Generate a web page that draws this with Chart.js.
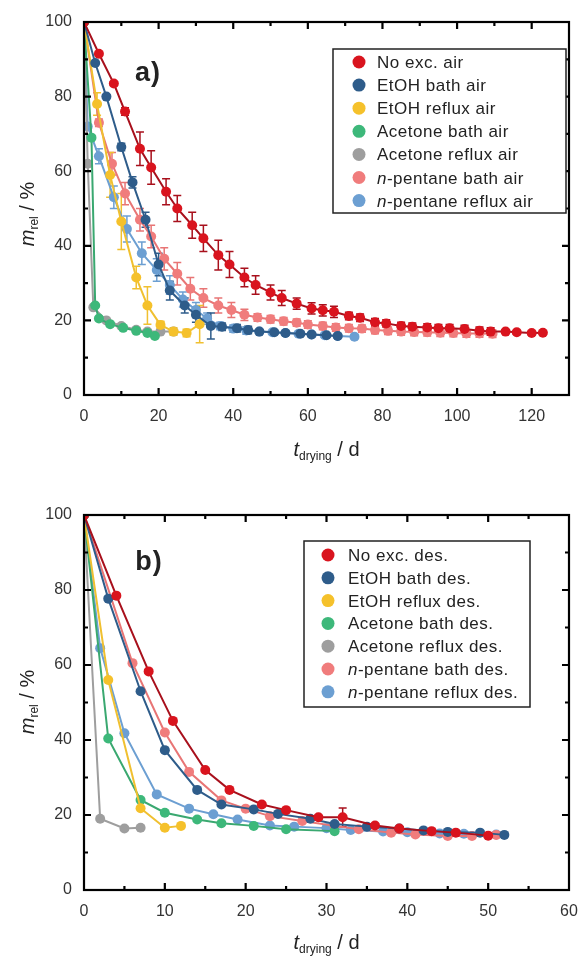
<!DOCTYPE html>
<html>
<head>
<meta charset="utf-8">
<script src="https://cdn.jsdelivr.net/npm/chart.js@4.4.0/dist/chart.umd.min.js"></script>
<style>
  html, body { margin: 0; padding: 0; background: #fff; }
  #wrap { position: relative; width: 579px; height: 957px; }
  .box { position: absolute; left: 0; width: 579px; }
</style>
</head>
<body>
<div id="wrap">
  <div class="box" style="top:0;height:485px"><canvas id="chartA"></canvas></div>
  <div class="box" style="top:485px;height:472px"><canvas id="chartB"></canvas></div>
</div>
<script>
// ---- 公共 ----
const NAMES_A = ["No exc. air", "EtOH bath air", "EtOH reflux air", "Acetone bath air", "Acetone reflux air", "n-pentane bath air", "n-pentane reflux air"];
const NAMES_B = ["No exc. des.", "EtOH bath des.", "EtOH reflux des.", "Acetone bath des.", "Acetone reflux des.", "n-pentane bath des.", "n-pentane reflux des."];
const FILL = ["#d9141e", "#2e5c8a", "#f5c12b", "#3db87a", "#9e9e9e", "#f07c7c", "#6c9fd2"];
const LINE = ["#a8101c", "#2e5c8a", "#f0c030", "#3aa870", "#9e9e9e", "#e87575", "#6c9fd2"];

const X_TICKS_A = [0, 20, 40, 60, 80, 100, 120];
const X_TICKS_B = [0, 10, 20, 30, 40, 50, 60];
const Y_TICKS = [0, 20, 40, 60, 80, 100];

// ---- a) 空氣乾燥 ----
const A_NOEXC_X = [0, 4, 8, 11, 15, 18, 22, 25, 29, 32, 36, 39, 43, 46, 50, 53, 57, 61, 64, 67, 71, 74, 78, 81, 85, 88, 92, 95, 98, 102, 106, 109, 113, 116, 120, 123];
const A_NOEXC_Y = [100, 91.5, 83.5, 76, 66, 61, 54.5, 50, 45.5, 42, 37.5, 35, 31.5, 29.5, 27.5, 26, 24.5, 23.2, 22.7, 22.3, 21.2, 20.7, 19.5, 19.2, 18.5, 18.3, 18.1, 17.9, 17.9, 17.7, 17.2, 17, 17, 16.8, 16.6, 16.7];
const A_NOEXC_E = [0, 0.5, 0.5, 1, 4.5, 4.5, 3.5, 3.5, 3.5, 3.5, 4, 3.5, 2.5, 2.5, 2, 2, 1.5, 1.5, 1.5, 1.5, 1, 1, 1, 1, 1, 1, 1, 1, 1, 1, 1, 1, 0.5, 0.5, 0.5, 0.5];

const A_ETB_X = [0, 3, 6, 10, 13, 16.5, 20, 23, 27, 30, 34, 37, 41, 44, 47, 51, 54, 58, 61, 65, 68];
const A_ETB_Y = [100, 89, 80, 66.5, 57, 47, 35, 28, 24, 21.5, 18.5, 18.3, 17.9, 17.4, 17, 16.8, 16.6, 16.4, 16.2, 16, 15.8];
const A_ETB_E = [0, 0, 0.5, 1, 1.5, 2, 3, 2.5, 2, 2, 3.5, 1, 1, 1, 0.5, 0.5, 0.5, 0.5, 0.5, 0.5, 0.5];

const A_ETR_X = [0, 3.5, 7, 10, 14, 17, 20.5, 24, 27.5, 31];
const A_ETR_Y = [100, 78, 59, 46.5, 31.5, 24, 18.8, 17, 16.6, 19];
const A_ETR_E = [0, 3, 6, 7.5, 3, 5, 1, 1, 1, 5];

const A_ACB_X = [0, 2, 3, 4, 7, 10.5, 14, 17, 19];
const A_ACB_Y = [100, 69, 24, 20.5, 19, 18, 17.2, 16.6, 15.8];

const A_ACR_X = [0, 1, 2.5, 6, 10, 14, 17, 20.5, 24];
const A_ACR_Y = [100, 62, 23.5, 20, 18.5, 17.5, 17, 17, 17];

const A_NPB_X = [0, 4, 7.5, 11, 15, 18, 21.5, 25, 28.5, 32, 36, 39.5, 43, 46.5, 50, 53.5, 57, 60, 64, 67.5, 71, 74.5, 78, 81.5, 85, 88.5, 92, 95.5, 99, 102.5, 106, 109.5];
const A_NPB_Y = [100, 73, 62, 54, 47, 42.5, 36.5, 32.5, 28.5, 26, 24, 22.8, 21.5, 20.8, 20.3, 19.8, 19.4, 18.9, 18.5, 18.1, 17.9, 17.8, 17.4, 17.2, 17, 16.9, 16.8, 16.7, 16.6, 16.5, 16.5, 16.4];
const A_NPB_E = [0, 1, 3, 3, 3, 3, 3, 3, 3, 2.5, 2, 2, 1.5, 1, 1, 1, 1, 1, 1, 1, 1, 1, 1, 1, 1, 1, 1, 1, 1, 1, 1, 1];

const A_NPR_X = [0, 1, 4, 8, 11.5, 15.5, 19.5, 23, 26.5, 30, 33, 36.5, 40, 43.5, 47, 50.5, 54, 57.5, 61, 64.5, 68, 72.5];
const A_NPR_Y = [100, 72, 64, 53, 44.5, 38, 33.5, 29.5, 25.6, 22.8, 20.5, 18.5, 17.8, 17.3, 17, 16.8, 16.6, 16.4, 16.2, 16, 15.8, 15.6];
const A_NPR_E = [0, 0, 2, 3, 3.5, 3, 3, 2.5, 2, 2, 1.5, 1, 1, 1, 0.5, 0.5, 0.5, 0.5, 0.5, 0.5, 0.5, 0.5];

// ---- b) 脫附 ----
const B_NOEXC_X = [0, 4, 8, 11, 15, 18, 22, 25, 29, 32, 36, 39, 43, 46, 50];
const B_NOEXC_Y = [100, 78.5, 58.3, 45.1, 32, 26.7, 22.8, 21.3, 19.4, 19.4, 17.2, 16.4, 15.7, 15.3, 14.5];
const B_NOEXC_E = [0, 0, 0, 0, 0, 0, 0.5, 0.5, 0.5, 2.5, 0.5, 0.5, 0.5, 0.5, 0.5];

const B_ETB_X = [0, 3, 7, 10, 14, 17, 21, 24, 28, 31, 35, 39, 42, 45, 49, 52];
const B_ETB_Y = [100, 77.7, 53, 37.3, 26.7, 22.8, 21.5, 20.3, 19, 17.6, 16.9, 16.4, 15.9, 15.5, 15.3, 14.7];

const B_ETR_X = [0, 3, 7, 10, 12];
const B_ETR_Y = [100, 56, 21.8, 16.6, 17.1];

const B_ACB_X = [0, 3, 7, 10, 14, 17, 21, 25, 31];
const B_ACB_Y = [100, 40.4, 24, 20.6, 18.8, 17.8, 17.1, 16.2, 15.7];

const B_ACR_X = [0, 2, 5, 7];
const B_ACR_Y = [100, 19, 16.4, 16.6];

const B_NPB_X = [0, 6, 10, 13, 17, 20, 23, 27, 31, 34, 38, 41, 45, 48, 51];
const B_NPB_Y = [100, 60.5, 42, 31.5, 23.9, 21.7, 19.7, 18.4, 17.1, 16.2, 15.3, 14.8, 14.4, 14.4, 14.7];

const B_NPR_X = [0, 2, 5, 9, 13, 16, 19, 23, 26, 30, 33, 37, 40, 44, 47, 51];
const B_NPR_Y = [100, 64.5, 41.8, 25.5, 21.7, 20.2, 18.8, 17.2, 16.9, 16.5, 16, 15.6, 15.4, 15.1, 15, 14.8];

const FONT = "'Liberation Sans', Arial, sans-serif";

const makeSet = (i, label, xs, ys, errs) => ({
  label,
  data: xs.map((x, k) => ({ x, y: ys[k] })),
  errors: errs || null,
  borderColor: LINE[i],
  backgroundColor: FILL[i],
  pointBackgroundColor: FILL[i],
  pointBorderWidth: 0,
  pointRadius: 5,
  borderWidth: 2,
  tension: 0,
});

// 誤差線
const errorBarPlugin = {
  id: "errorBars",
  beforeDatasetsDraw(chart) {
    const { ctx, scales: { x, y } } = chart;
    const sets = chart.data.datasets;
    for (let i = sets.length - 1; i >= 0; i--) {
      const ds = sets[i];
      if (!ds.errors) continue;
      ctx.save();
      ctx.strokeStyle = ds.borderColor;
      ctx.lineWidth = 1.5;
      ds.data.forEach((p, j) => {
        const e = ds.errors[j];
        if (!e) return;
        const px = x.getPixelForValue(p.x);
        const top = y.getPixelForValue(p.y + e);
        const bot = y.getPixelForValue(p.y - e);
        ctx.beginPath();
        ctx.moveTo(px, top); ctx.lineTo(px, bot);
        ctx.moveTo(px - 4, top); ctx.lineTo(px + 4, top);
        ctx.moveTo(px - 4, bot); ctx.lineTo(px + 4, bot);
        ctx.stroke();
      });
      ctx.restore();
    }
  },
};

// 外框與向內刻度
const framePlugin = {
  id: "frame",
  afterDraw(chart, args, opts) {
    const { ctx, chartArea: ca, scales: { x, y } } = chart;
    ctx.save();
    ctx.strokeStyle = "#000";
    ctx.lineWidth = 2.2;
    ctx.strokeRect(ca.left, ca.top, ca.right - ca.left, ca.bottom - ca.top);
    ctx.beginPath();
    for (let v = x.min + opts.xMinor; v < x.max - 1e-6; v += opts.xMinor) {
      const px = x.getPixelForValue(v);
      const len = Math.abs(v % opts.xMajor) < 1e-6 ? 7 : 4;
      ctx.moveTo(px, ca.bottom); ctx.lineTo(px, ca.bottom - len);
      ctx.moveTo(px, ca.top); ctx.lineTo(px, ca.top + len);
    }
    for (let v = y.min + 10; v < y.max - 1e-6; v += 10) {
      const py = y.getPixelForValue(v);
      const len = v % 20 === 0 ? 7 : 4;
      ctx.moveTo(ca.left, py); ctx.lineTo(ca.left + len, py);
      ctx.moveTo(ca.right, py); ctx.lineTo(ca.right - len, py);
    }
    ctx.stroke();
    ctx.restore();
  },
};

// 多段文字 (斜體 / 下標)
const richWidth = (ctx, parts) => parts.reduce((w, p) => { ctx.font = p.font; return w + ctx.measureText(p.t).width; }, 0);
const drawRich = (ctx, parts, x, y) => {
  parts.forEach((p) => {
    ctx.font = p.font;
    ctx.fillText(p.t, x, y + (p.dy || 0));
    x += ctx.measureText(p.t).width;
  });
};
const labelParts = (label, size) => {
  if (label.startsWith("n-")) {
    return [{ t: "n", font: `italic ${size}px ${FONT}` }, { t: label.slice(1), font: `${size}px ${FONT}` }];
  }
  return [{ t: label, font: `${size}px ${FONT}` }];
};

const decorPlugin = {
  id: "decor",
  afterDraw(chart, args, o) {
    const { ctx, chartArea: ca } = chart;
    ctx.save();
    ctx.fillStyle = "#222";
    ctx.textBaseline = "alphabetic";
    // 面板標籤
    ctx.font = `bold 27px ${FONT}`;
    ctx.letterSpacing = "1px";
    ctx.textAlign = "center";
    ctx.fillText(o.panel, o.panelX, o.panelY);
    ctx.textAlign = "left";
    ctx.letterSpacing = "0px";
    // x 軸標題
    const xt = [
      { t: "t", font: `italic 20px ${FONT}` },
      { t: "drying", font: `12px ${FONT}`, dy: 4 },
      { t: " / d", font: `20px ${FONT}` },
    ];
    const cx = (ca.left + ca.right) / 2;
    drawRich(ctx, xt, cx - richWidth(ctx, xt) / 2, o.xTitleY);
    // y 軸標題
    const yt = [
      { t: "m", font: `italic 20px ${FONT}` },
      { t: "rel", font: `12px ${FONT}`, dy: 4 },
      { t: " / %", font: `20px ${FONT}` },
    ];
    ctx.save();
    ctx.translate(o.yTitleX, o.yTitleY);
    ctx.rotate(-Math.PI / 2);
    drawRich(ctx, yt, -richWidth(ctx, yt) / 2, 0);
    ctx.restore();
    // 圖例
    const L = o.legend;
    ctx.fillStyle = "#fff";
    ctx.fillRect(L.x, L.y, L.w, L.h);
    ctx.strokeStyle = "#222";
    ctx.lineWidth = 1.5;
    ctx.strokeRect(L.x, L.y, L.w, L.h);
    ctx.letterSpacing = "0.5px";
    chart.data.datasets.forEach((ds, i) => {
      const ly = L.y0 + i * L.dy;
      ctx.fillStyle = ds.pointBackgroundColor;
      ctx.beginPath();
      ctx.arc(L.mx, ly, 6.5, 0, Math.PI * 2);
      ctx.fill();
      ctx.fillStyle = "#222";
      drawRich(ctx, labelParts(ds.label, 17), L.tx, ly + 6);
    });
    ctx.restore();
  },
};

const buildOptions = (xMax, xTicks, fitHeight, padTop, decor, xMinor) => ({
  responsive: true,
  maintainAspectRatio: false,
  animation: false,
  layout: { padding: { top: padTop, right: 10, left: 0, bottom: 0 } },
  plugins: {
    legend: { display: false },
    tooltip: { enabled: false },
    decor,
    frame: { xMinor, xMajor: xMinor * 2 },
  },
  scales: {
    x: {
      type: "linear",
      min: 0,
      max: xMax,
      grid: { display: false, drawTicks: false },
      border: { display: false },
      afterFit: (s) => { s.height = fitHeight; s.paddingLeft = 0; s.paddingRight = 0; },
      afterBuildTicks: (s) => { s.ticks = xTicks.map((v) => ({ value: v })); },
      ticks: { padding: 12, color: "#333", font: { family: FONT, size: 16 } },
    },
    y: {
      type: "linear",
      min: 0,
      max: 100,
      grid: { display: false, drawTicks: false },
      border: { display: false },
      afterFit: (s) => { s.width = 84; s.paddingTop = 0; s.paddingBottom = 0; },
      afterBuildTicks: (s) => { s.ticks = Y_TICKS.map((v) => ({ value: v })); },
      ticks: { padding: 12, color: "#333", font: { family: FONT, size: 16 } },
    },
  },
});

new Chart(document.getElementById("chartA"), {
  type: "line",
  data: {
    datasets: [
      makeSet(0, NAMES_A[0], A_NOEXC_X, A_NOEXC_Y, A_NOEXC_E),
      makeSet(1, NAMES_A[1], A_ETB_X, A_ETB_Y, A_ETB_E),
      makeSet(2, NAMES_A[2], A_ETR_X, A_ETR_Y, A_ETR_E),
      makeSet(3, NAMES_A[3], A_ACB_X, A_ACB_Y),
      makeSet(4, NAMES_A[4], A_ACR_X, A_ACR_Y),
      makeSet(5, NAMES_A[5], A_NPB_X, A_NPB_Y, A_NPB_E),
      makeSet(6, NAMES_A[6], A_NPR_X, A_NPR_Y, A_NPR_E),
    ],
  },
  options: buildOptions(130, X_TICKS_A, 90, 22, {
    panel: "a)", panelX: 148, panelY: 81,
    xTitleY: 456, yTitleX: 34, yTitleY: 214,
    legend: { x: 333, y: 49, w: 233, h: 164, mx: 359, tx: 377, y0: 62, dy: 23.1 },
  }, 10),
  plugins: [errorBarPlugin, framePlugin, decorPlugin],
});

new Chart(document.getElementById("chartB"), {
  type: "line",
  data: {
    datasets: [
      makeSet(0, NAMES_B[0], B_NOEXC_X, B_NOEXC_Y, B_NOEXC_E),
      makeSet(1, NAMES_B[1], B_ETB_X, B_ETB_Y),
      makeSet(2, NAMES_B[2], B_ETR_X, B_ETR_Y),
      makeSet(3, NAMES_B[3], B_ACB_X, B_ACB_Y),
      makeSet(4, NAMES_B[4], B_ACR_X, B_ACR_Y),
      makeSet(5, NAMES_B[5], B_NPB_X, B_NPB_Y),
      makeSet(6, NAMES_B[6], B_NPR_X, B_NPR_Y),
    ],
  },
  options: buildOptions(60, X_TICKS_B, 67, 30, {
    panel: "b)", panelX: 149, panelY: 85,
    xTitleY: 464, yTitleX: 34, yTitleY: 217,
    legend: { x: 304, y: 56, w: 226, h: 166, mx: 328, tx: 348, y0: 70, dy: 22.8 },
  }, 5),
  plugins: [errorBarPlugin, framePlugin, decorPlugin],
});
</script>
</body>
</html>
